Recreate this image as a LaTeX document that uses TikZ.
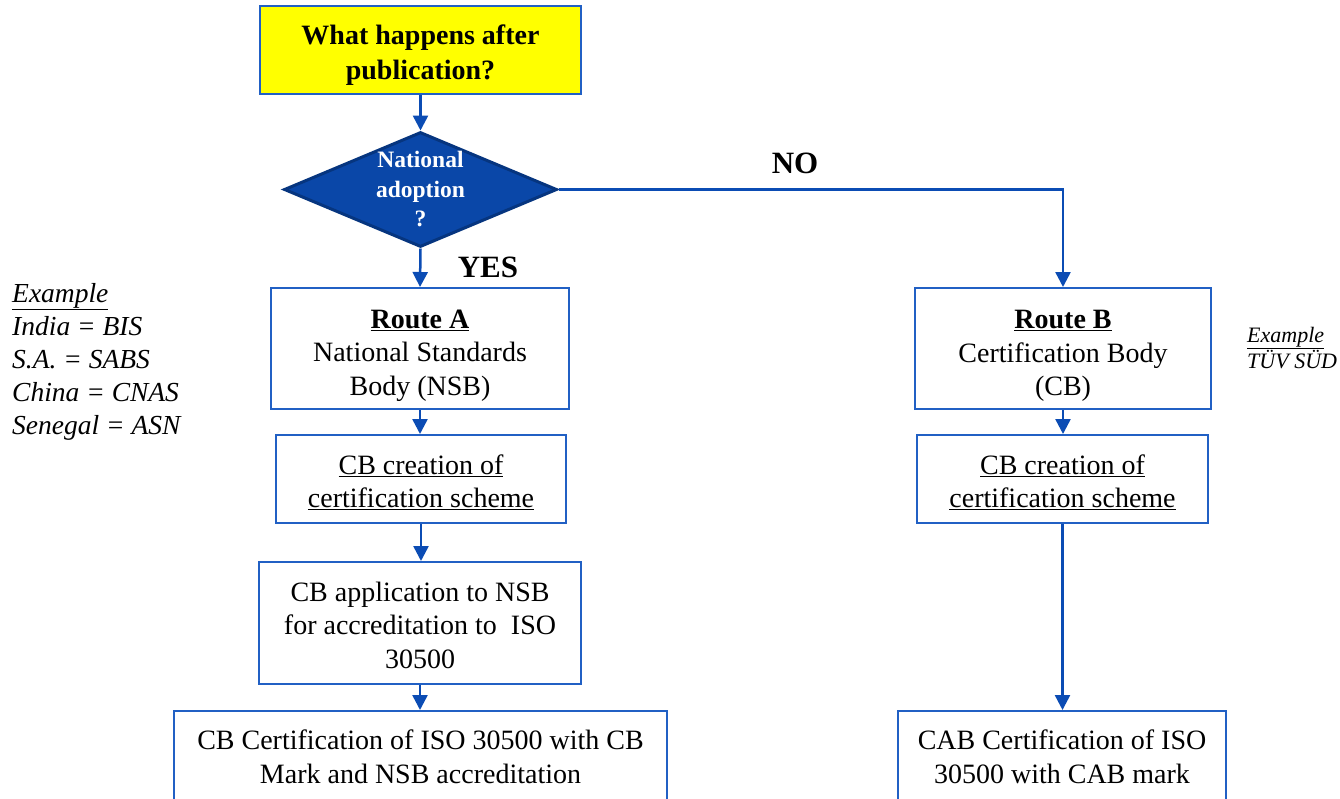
\documentclass[tikz,border=0pt]{standalone}
\usepackage{fontspec}
\setmainfont{Liberation Serif}
\usetikzlibrary{shapes.geometric,arrows.meta}
\definecolor{boxblue}{HTML}{2160C4}
\definecolor{arrowblue}{HTML}{0B4CB4}
\definecolor{diafill}{HTML}{0A47A8}
\definecolor{diaedge}{HTML}{06357F}
\definecolor{qyellow}{HTML}{FFFF00}
% invisible strut that lowers the first line of a box
\newcommand\toppad[1]{\rule{0pt}{#1}}
\tikzset{
  stepbox/.style={draw=boxblue, line width=2pt, fill=white, align=center,
    inner sep=0pt, font=\fontsize{28}{33.5}\selectfont},
  flow/.style={draw=arrowblue, line width=2.5pt,
    -{Triangle[width=15pt,length=15pt]}},
  answer/.style={font=\bfseries\fontsize{31}{34}\selectfont},
  note/.style={align=left, anchor=north west, inner sep=0pt}
}
\begin{document}
\begin{tikzpicture}[x=1pt,y=-1pt]
\useasboundingbox (0,0) rectangle (1340,798);
\clip (0,0) rectangle (1340,798);
\fill[white] (0,0) rectangle (1340,798);

% question box
\node[stepbox, fill=qyellow, minimum width=321pt, minimum height=88pt,
  font=\bfseries\fontsize{28}{35}\selectfont] (q) at (420.5,50)
  {\toppad{29pt}What happens after\\publication?};

% decision
\node[diamond, draw=diaedge, line width=3pt, fill=diafill, text=white,
  minimum width=273pt, minimum height=115pt, inner sep=0pt, aspect=2.37,
  align=center, font=\bfseries\fontsize{23.5}{29.5}\selectfont]
  (d) at (420.5,189.5) {National\\adoption\\?};

% route A column
\node[stepbox, minimum width=298pt, minimum height=121pt] (a1) at (420,348.5)
  {\toppad{33pt}\textbf{\underline{Route A}}\\National Standards\\Body (NSB)};
\node[stepbox, minimum width=290pt, minimum height=88pt] (a2) at (421,479)
  {\toppad{26pt}\underline{CB creation of}\\\underline{certification scheme}};
\node[stepbox, minimum width=322pt, minimum height=122pt] (a3) at (420,623)
  {\toppad{24pt}CB application to NSB\\for accreditation to\ \ ISO\\30500};
\node[stepbox, minimum width=493pt, minimum height=92pt] (a4) at (420.5,757)
  {CB Certification of ISO 30500 with CB\\Mark and NSB accreditation};

% route B column
\node[stepbox, minimum width=296pt, minimum height=121pt] (b1) at (1063,348.5)
  {\toppad{33pt}\textbf{\underline{Route B}}\\Certification Body\\(CB)};
\node[stepbox, minimum width=291pt, minimum height=88pt] (b2) at (1062.5,479)
  {\toppad{26pt}\underline{CB creation of}\\\underline{certification scheme}};
\node[stepbox, minimum width=328pt, minimum height=92pt] (b4) at (1062,757)
  {CAB Certification of ISO\\30500 with CAB mark};

% connectors
\draw[flow] (q.south) -- (q.south |- d.north);
\draw[flow] (q.south |- d.south) -- (a1.north);
\draw[flow] (d.east) -| (b1.north);
\draw[flow] (a1.south) -- (a1.south |- a2.north);
\draw[flow] (a2.south) -- (a2.south |- a3.north);
\draw[flow] (a3.south) -- (a3.south |- a4.north);
\draw[flow] (b1.south) -- (b1.south |- b2.north);
\draw[flow] (b2.south) -- (b2.south |- b4.north);

% branch labels
\node[answer] (yes) at (488,267) {YES};
\node[answer] (no) at (795,163) {NO};

% examples
\node[note, font=\itshape\fontsize{27.5}{33}\selectfont] (exa) at (12,283)
  {\underline{Example}\\India = BIS\\S.A. = SABS\\China = CNAS\\Senegal = ASN};
\node[note, font=\itshape\fontsize{22}{26.5}\selectfont] (exb) at (1247,327)
  {\underline{Example}\\TÜV SÜD};
\end{tikzpicture}
\end{document}
